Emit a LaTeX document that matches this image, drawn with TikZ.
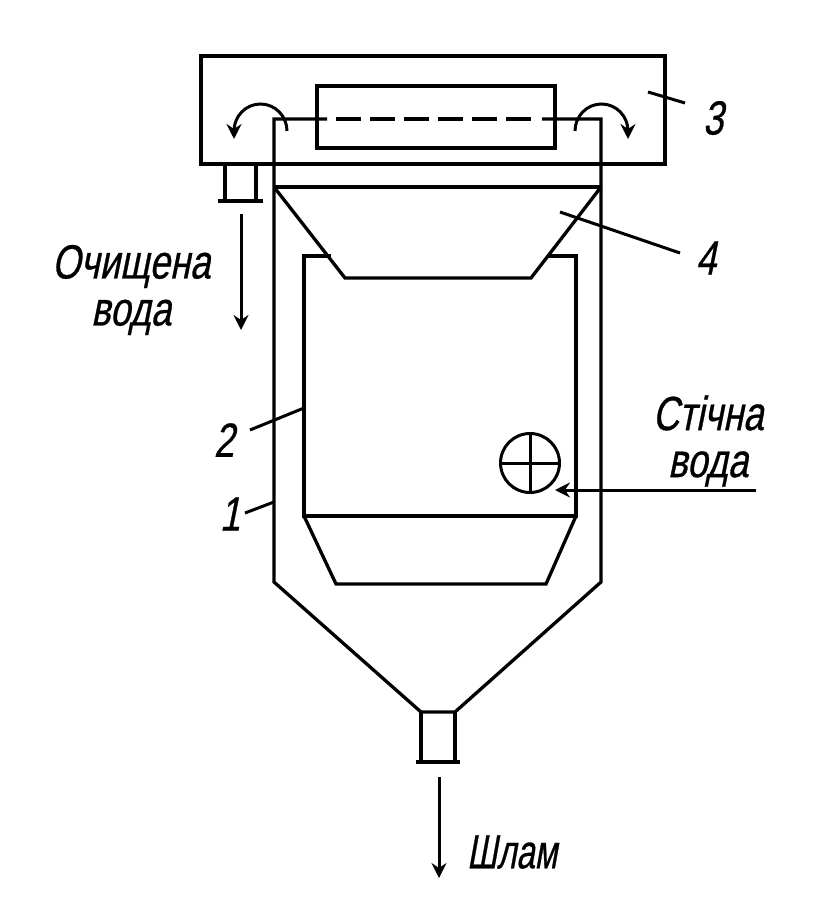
\documentclass[tikz,border=0pt]{standalone}
\usepackage{fontspec}
\usetikzlibrary{arrows.meta}
\newfontfamily\labelfont[FakeStretch=0.76,FakeSlant=0.2,FakeBold=0.6]{Liberation Sans}

\begin{document}
\begin{tikzpicture}[x=1pt,y=-1pt,line width=3.3pt,>={Stealth[length=15pt,width=15pt,inset=5pt]}]
    \tikzstyle{wall}=[line join=miter,line cap=butt]
    \tikzstyle{flow}=[->,line width=3pt]
    \tikzstyle{leader}=[line width=3pt]
    \tikzstyle{swirl}=[->,line width=3pt]
    \tikzstyle{annot}=[font=\labelfont\fontsize{48}{47}\selectfont,inner sep=0pt,align=center]

    \useasboundingbox (0,0) rectangle (836,920);

    % Collecting box and the pipe inside it
    \draw[wall] (201,56) rectangle (665,164);
    \draw[wall] (317,86) rectangle (555,148);
    \draw[wall] (327,119) -- (274,119) -- (274,582) -- (421,712) -- (455,712)
        -- (601,582) -- (601,119) -- (542,119);
    \draw[dash pattern=on 25pt off 9pt] (336,119) -- (531,119);

    % Outlet of the box
    \draw[wall] (225,164) -- (225,201);
    \draw[wall] (256,164) -- (256,201);
    \draw[wall] (218,201) -- (263,201);

    % Funnel
    \draw[wall] (274,187) -- (601,187);
    \draw[wall] (274,187) -- (345,278) -- (531,278) -- (601,187);

    % Inner vessel with its bottom
    \draw[wall] (331,256) -- (304,256) -- (304,516) -- (576,516) -- (576,256) -- (548,256);
    \draw[wall] (304,516) -- (336,584) -- (546,584) -- (576,516);

    % Inlet
    \node[draw,circle,minimum size=59pt,inner sep=0pt,line width=3pt] (inlet) at (530,463) {};
    \draw[line width=3pt] (inlet.north) -- (inlet.south);
    \draw[line width=3pt] (inlet.west) -- (inlet.east);

    % Neck at the bottom
    \draw[wall] (421,712) -- (421,762);
    \draw[wall] (455,712) -- (455,762);
    \draw[wall] (416,762) -- (460,762);

    % Overflow arrows
    \draw[swirl] (287,131) arc (0:-180:26.5 and 27) -- ++(0,8);
    \draw[swirl] (575,131) arc (180:360:26.5 and 27) -- ++(0,8);

    % Labels
    \node[annot] (n1) at (230,514) {1};
    \node[annot] (n2) at (224,440) {2};
    \node[annot] (n3) at (713,118) {3};
    \node[annot] (n4) at (706,258) {4};
    \node[annot] (clean) at (131,290) {Очищена\\вода};
    \node[annot] (waste) at (708,441) {Стічна\\вода};
    \node[annot,xscale=0.9] (sludge) at (512,852) {Шлам};

    % Leaders
    \draw[leader] (245,513) -- (274,502);
    \draw[leader] (250,430) -- (304,408);
    \draw[leader] (648,92) -- (685,103);
    \draw[leader] (560,212) -- (680,253);

    % Flows
    \draw[flow] (241,214) -- (241,330);
    \draw[flow] (756,490) -- (555,490);
    \draw[flow] (439,777) -- (439,878);
\end{tikzpicture}
\end{document}
